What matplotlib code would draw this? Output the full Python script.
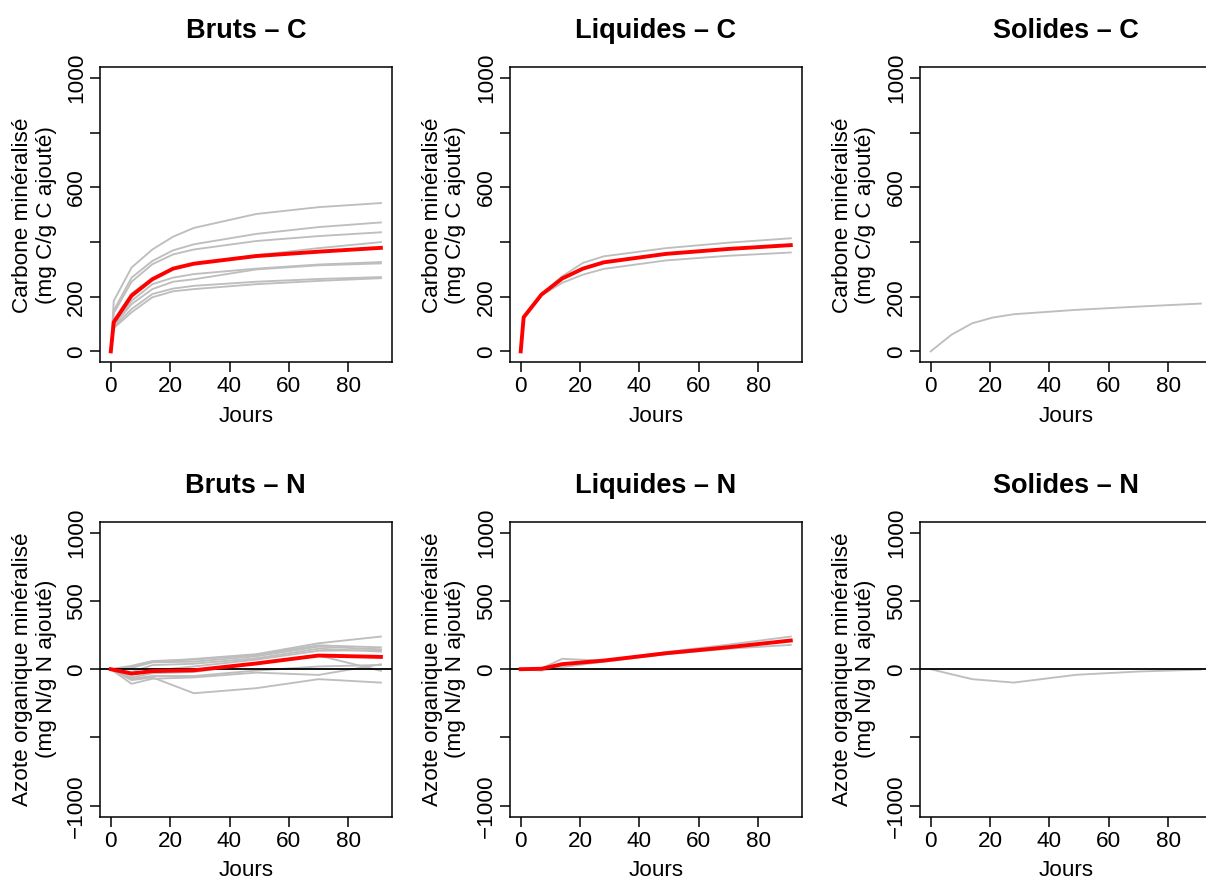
import matplotlib
matplotlib.use("Agg")
import matplotlib.pyplot as plt

plt.rcParams['font.family'] = ['Liberation Sans', 'DejaVu Sans']

# ---------------- data ----------------
days_C = [0, 1, 7, 14, 21, 28, 49, 70, 91]
days_C_sol = [0, 7, 14, 21, 28, 49, 70, 91]
days_N = [0, 7, 14, 28, 49, 70, 91]

bruts_C_1 = [0, 185, 307, 373, 420, 452, 503, 528, 543]
bruts_C_2 = [0, 150, 270, 331, 370, 392, 430, 455, 472]
bruts_C_3 = [0, 140, 255, 319, 355, 373, 404, 422, 436]
bruts_C_4 = [0, 110, 212, 268, 302, 321, 352, 378, 400]
bruts_C_5 = [0, 100, 185, 246, 270, 283, 303, 318, 327]
bruts_C_6 = [0, 95, 173, 228, 255, 264, 300, 315, 322]
bruts_C_7 = [0, 90, 155, 210, 230, 240, 255, 265, 272]
bruts_C_8 = [0, 85, 143, 198, 220, 228, 246, 258, 268]
bruts_C_mean = [0, 107, 204, 264, 303, 321, 349, 365, 379]

liq_C_1 = [0, 125, 208, 275, 324, 348, 378, 398, 414]
liq_C_2 = [0, 122, 205, 251, 281, 302, 333, 350, 362]
liq_C_mean = [0, 125, 208, 267, 303, 326, 357, 375, 389]

sol_C_1 = [0, 61, 103, 124, 136, 152, 164, 175]

bruts_N_1 = [0, 15, 55, 75, 110, 190, 239]
bruts_N_2 = [0, 25, 60, 70, 105, 175, 160]
bruts_N_3 = [0, 10, 50, 55, 95, 165, 146]
bruts_N_4 = [0, -20, 30, 40, 80, 150, 129]
bruts_N_5 = [0, -40, -10, 20, 70, 135, 140]
bruts_N_6 = [0, -60, -30, -20, 40, 100, -12]
bruts_N_7 = [0, -70, -50, -50, -10, 20, 31]
bruts_N_8 = [0, -107, -70, -60, -25, -42, 36]
bruts_N_9 = [0, -80, -60, -176, -139, -73, -98]
bruts_N_mean = [0, -32, -14, -8, 42, 100, 90]

liq_N_1 = [0, 5, 76, 62, 125, 180, 239]
liq_N_2 = [0, -10, 15, 55, 110, 150, 178]
liq_N_mean = [0, 3, 37, 63, 117, 161, 210]

sol_N_1 = [0, -37, -73, -98, -41, -17, -3]

titles = ["Bruts \u2013 C", "Liquides \u2013 C", "Solides \u2013 C",
          "Bruts \u2013 N", "Liquides \u2013 N", "Solides \u2013 N"]
ylab_C = "Carbone min\u00e9ralis\u00e9\n(mg C/g C ajout\u00e9)"
ylab_N = "Azote organique min\u00e9ralis\u00e9\n(mg N/g N ajout\u00e9)"
xlab = "Jours"
xticks = [0, 20, 40, 60, 80]
yticks_C = [0, 200, 400, 600, 800, 1000]
yticklabels_C = ["0", "200", "", "600", "", "1000"]
yticks_N = [-1000, -500, 0, 500, 1000]
yticklabels_N = ["\u22121000", "", "0", "500", "1000"]

# ---------------- layout ----------------
W, H = 1206, 880
fig = plt.figure(figsize=(W / 100, H / 100), dpi=100)

col_left = [100, 509.9, 919.9]
row_top = [67.3, 521.7]
aw, ah = 291.7, 295.0

GRAY = "#BEBEBE"
FS = 16.2

panels = [
    (0, 0, days_C, [bruts_C_1, bruts_C_2, bruts_C_3, bruts_C_4, bruts_C_5,
                    bruts_C_6, bruts_C_7, bruts_C_8], bruts_C_mean, "C"),
    (0, 1, days_C, [liq_C_1, liq_C_2], liq_C_mean, "C"),
    (0, 2, days_C_sol, [sol_C_1], None, "C"),
    (1, 0, days_N, [bruts_N_1, bruts_N_2, bruts_N_3, bruts_N_4, bruts_N_5,
                    bruts_N_6, bruts_N_7, bruts_N_8, bruts_N_9], bruts_N_mean, "N"),
    (1, 1, days_N, [liq_N_1, liq_N_2], liq_N_mean, "N"),
    (1, 2, days_N, [sol_N_1], None, "N"),
]

for i, (r, c, days, grays, mean, kind) in enumerate(panels):
    l = col_left[c]
    t = row_top[r]
    ax = fig.add_axes([l / W, 1 - (t + ah) / H, aw / W, ah / H])
    for g in grays:
        ax.plot(days, g, color=GRAY, lw=1.35, zorder=2)
    if kind == "N":
        ax.axhline(0, color="black", lw=1.3, zorder=3)
    if mean is not None:
        ax.plot(days, mean, color="#FF0000", lw=2.8, zorder=4)
    ax.set_xlim(-3.64, 94.64)
    ax.set_xticks(xticks)
    ax.set_xticklabels([str(v) for v in xticks])
    if kind == "C":
        ax.set_ylim(-40, 1040)
        ax.set_yticks(yticks_C)
        ax.set_yticklabels(yticklabels_C)
        ax.set_ylabel(ylab_C, fontsize=FS, va="center", linespacing=1.15)
    else:
        ax.set_ylim(-1080, 1080)
        ax.set_yticks(yticks_N)
        ax.set_yticklabels(yticklabels_N)
        ax.set_ylabel(ylab_N, fontsize=FS, va="center", linespacing=1.15)
    ax.yaxis.set_label_coords(-0.225, 0.5)
    for lab in ax.get_yticklabels():
        lab.set_rotation(90)
        lab.set_va("center")
        lab.set_ha("right")
    ax.set_xlabel(xlab, fontsize=FS, va="baseline")
    ax.xaxis.set_label_coords(0.5, -0.202)
    ax.tick_params(axis="both", which="major", length=7.2, width=1.1,
                   labelsize=FS, direction="out", color="black")
    ax.tick_params(axis="x", pad=3)
    ax.tick_params(axis="y", pad=2)
    for sp in ax.spines.values():
        sp.set_linewidth(1.1)
        sp.set_color("black")
    ax.set_title(titles[i], fontsize=19.5, fontweight="bold", pad=21)

fig.savefig("out.png", dpi=100, facecolor="white")
